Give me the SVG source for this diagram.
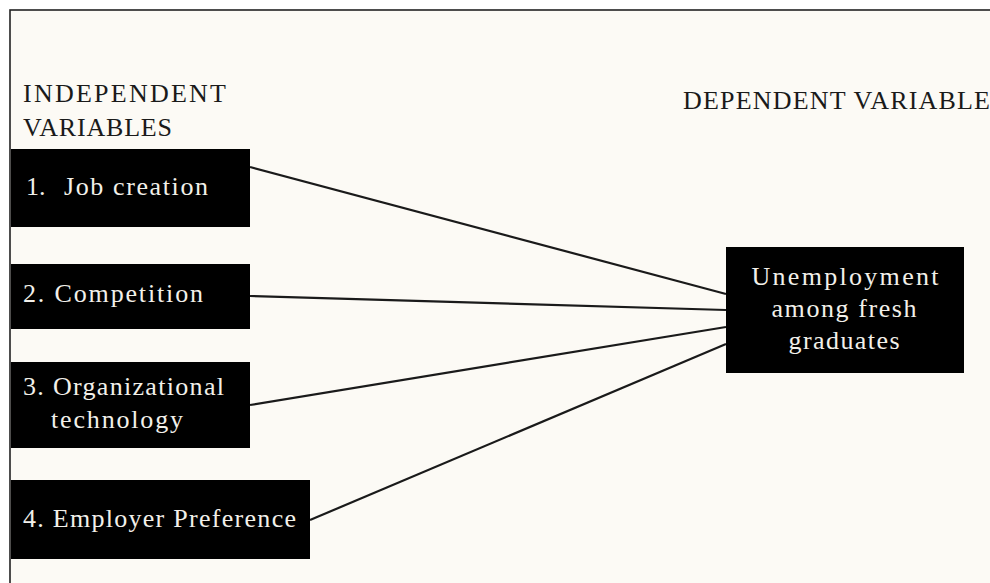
<svg xmlns="http://www.w3.org/2000/svg" width="990" height="583" viewBox="0 0 990 583">
<style>
.hdr{font-family:"Liberation Serif","Times New Roman",serif;font-size:26px;fill:#1a1a1a}
.box{fill:#000}
.lbl{font-family:"Liberation Serif","Times New Roman",serif;font-size:26px;fill:#f2f0ea}
.conn line{stroke:#1a1a1a;stroke-width:2.2}
</style>
<rect x="0" y="0" width="990" height="583" fill="#ffffff"/>
<rect x="10" y="10" width="990" height="600" fill="#fcfaf5" stroke="#222" stroke-width="1.6"/>
<g id="headers">
<text class="hdr" x="23" y="102" textLength="203">INDEPENDENT</text>
<text class="hdr" x="23" y="136" textLength="149">VARIABLES</text>
<text class="hdr" x="683" y="109" textLength="307">DEPENDENT VARIABLE</text>
</g>
<g class="conn" id="connectors">
<line x1="250" y1="167" x2="726" y2="294"/>
<line x1="250" y1="296" x2="726" y2="310"/>
<line x1="250" y1="405" x2="726" y2="327"/>
<line x1="310" y1="520" x2="726" y2="344"/>
</g>
<g id="node1">
<rect class="box" x="11" y="149" width="239" height="78"/>
<text class="lbl" x="26" y="195">1.</text>
<text class="lbl" x="64" y="195" textLength="144">Job creation</text>
</g>
<g id="node2">
<rect class="box" x="11" y="264" width="239" height="65"/>
<text class="lbl" x="23" y="302" textLength="180">2. Competition</text>
</g>
<g id="node3">
<rect class="box" x="11" y="362" width="239" height="86"/>
<text class="lbl" x="23" y="395" textLength="201">3. Organizational</text>
<text class="lbl" x="51" y="428" textLength="132">technology</text>
</g>
<g id="node4">
<rect class="box" x="11" y="480" width="299" height="79"/>
<text class="lbl" x="23" y="527" textLength="273">4. Employer Preference</text>
</g>
<g id="node5">
<rect class="box" x="726" y="247" width="238" height="126"/>
<text class="lbl" x="845" y="285" text-anchor="middle" textLength="187">Unemployment</text>
<text class="lbl" x="844" y="317" text-anchor="middle" textLength="145">among fresh</text>
<text class="lbl" x="844" y="349" text-anchor="middle" textLength="111">graduates</text>
</g>
</svg>
